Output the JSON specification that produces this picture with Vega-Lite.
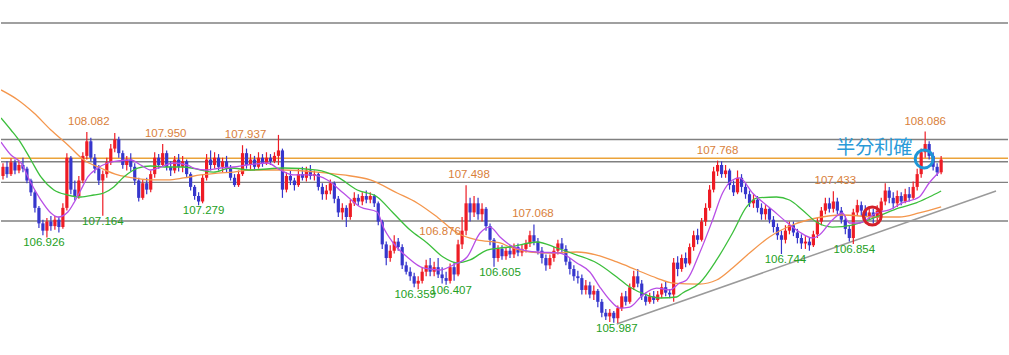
{
"$schema":"https://vega.github.io/schema/vega-lite/v6.json",
"width":1009,"height":355,"padding":0,
"autosize":{"type":"fit","contains":"padding"},
"background":"white",
"config":{"view":{"stroke":null},"axis":{"disable":true}},
"datasets":{
"candles":[
{"t":0,"o":107.60,"h":107.74,"l":107.56,"c":107.70},
{"t":1,"o":107.70,"h":107.76,"l":107.58,"c":107.62},
{"t":2,"o":107.62,"h":107.79,"l":107.60,"c":107.75},
{"t":3,"o":107.75,"h":107.78,"l":107.62,"c":107.66},
{"t":4,"o":107.66,"h":107.76,"l":107.63,"c":107.72},
{"t":5,"o":107.72,"h":107.80,"l":107.64,"c":107.68},
{"t":6,"o":107.68,"h":107.70,"l":107.52,"c":107.55},
{"t":7,"o":107.55,"h":107.57,"l":107.38,"c":107.42},
{"t":8,"o":107.42,"h":107.44,"l":107.20,"c":107.25},
{"t":9,"o":107.25,"h":107.27,"l":107.03,"c":107.08},
{"t":10,"o":107.08,"h":107.12,"l":106.95,"c":107.00},
{"t":11,"o":107.00,"h":107.14,"l":106.926,"c":107.10},
{"t":12,"o":107.10,"h":107.16,"l":107.00,"c":107.05},
{"t":13,"o":107.05,"h":107.16,"l":107.01,"c":107.12},
{"t":14,"o":107.12,"h":107.15,"l":106.98,"c":107.04},
{"t":15,"o":107.04,"h":107.30,"l":107.02,"c":107.25},
{"t":16,"o":107.25,"h":107.85,"l":107.22,"c":107.80},
{"t":17,"o":107.80,"h":107.82,"l":107.40,"c":107.45},
{"t":18,"o":107.45,"h":107.55,"l":107.33,"c":107.38},
{"t":19,"o":107.38,"h":107.60,"l":107.35,"c":107.55},
{"t":20,"o":107.55,"h":107.86,"l":107.52,"c":107.82},
{"t":21,"o":107.82,"h":108.082,"l":107.78,"c":107.98},
{"t":22,"o":107.98,"h":108.02,"l":107.76,"c":107.80},
{"t":23,"o":107.80,"h":107.84,"l":107.63,"c":107.68},
{"t":24,"o":107.68,"h":107.72,"l":107.50,"c":107.55},
{"t":25,"o":107.55,"h":107.66,"l":107.164,"c":107.62},
{"t":26,"o":107.62,"h":107.80,"l":107.58,"c":107.75},
{"t":27,"o":107.75,"h":107.95,"l":107.72,"c":107.90},
{"t":28,"o":107.90,"h":108.07,"l":107.86,"c":108.00},
{"t":29,"o":108.00,"h":108.03,"l":107.80,"c":107.85},
{"t":30,"o":107.85,"h":107.88,"l":107.68,"c":107.72},
{"t":31,"o":107.72,"h":107.82,"l":107.66,"c":107.78},
{"t":32,"o":107.78,"h":107.85,"l":107.65,"c":107.70},
{"t":33,"o":107.70,"h":107.74,"l":107.50,"c":107.55},
{"t":34,"o":107.55,"h":107.58,"l":107.32,"c":107.36},
{"t":35,"o":107.36,"h":107.56,"l":107.34,"c":107.52},
{"t":36,"o":107.52,"h":107.58,"l":107.40,"c":107.45},
{"t":37,"o":107.45,"h":107.66,"l":107.42,"c":107.62},
{"t":38,"o":107.62,"h":107.86,"l":107.58,"c":107.80},
{"t":39,"o":107.80,"h":107.84,"l":107.68,"c":107.72},
{"t":40,"o":107.72,"h":107.95,"l":107.70,"c":107.85},
{"t":41,"o":107.85,"h":107.88,"l":107.66,"c":107.70},
{"t":42,"o":107.70,"h":107.76,"l":107.60,"c":107.66},
{"t":43,"o":107.66,"h":107.82,"l":107.63,"c":107.78},
{"t":44,"o":107.78,"h":107.84,"l":107.65,"c":107.70},
{"t":45,"o":107.70,"h":107.82,"l":107.64,"c":107.76},
{"t":46,"o":107.76,"h":107.78,"l":107.58,"c":107.62},
{"t":47,"o":107.62,"h":107.64,"l":107.44,"c":107.48},
{"t":48,"o":107.48,"h":107.50,"l":107.34,"c":107.38},
{"t":49,"o":107.38,"h":107.42,"l":107.279,"c":107.32},
{"t":50,"o":107.32,"h":107.62,"l":107.30,"c":107.58},
{"t":51,"o":107.58,"h":107.84,"l":107.55,"c":107.78},
{"t":52,"o":107.78,"h":107.88,"l":107.66,"c":107.72},
{"t":53,"o":107.72,"h":107.86,"l":107.68,"c":107.80},
{"t":54,"o":107.80,"h":107.84,"l":107.66,"c":107.70},
{"t":55,"o":107.70,"h":107.80,"l":107.64,"c":107.76},
{"t":56,"o":107.76,"h":107.82,"l":107.64,"c":107.68},
{"t":57,"o":107.68,"h":107.72,"l":107.55,"c":107.58},
{"t":58,"o":107.58,"h":107.62,"l":107.48,"c":107.50},
{"t":59,"o":107.50,"h":107.66,"l":107.48,"c":107.62},
{"t":60,"o":107.62,"h":107.937,"l":107.60,"c":107.85},
{"t":61,"o":107.85,"h":107.90,"l":107.68,"c":107.72},
{"t":62,"o":107.72,"h":107.84,"l":107.66,"c":107.78},
{"t":63,"o":107.78,"h":107.82,"l":107.66,"c":107.70},
{"t":64,"o":107.70,"h":107.86,"l":107.68,"c":107.80},
{"t":65,"o":107.80,"h":107.84,"l":107.70,"c":107.74},
{"t":66,"o":107.74,"h":107.86,"l":107.72,"c":107.80},
{"t":67,"o":107.80,"h":107.84,"l":107.72,"c":107.76},
{"t":68,"o":107.76,"h":107.86,"l":107.74,"c":107.82},
{"t":69,"o":107.82,"h":108.05,"l":107.72,"c":107.88},
{"t":70,"o":107.88,"h":107.90,"l":107.36,"c":107.45},
{"t":71,"o":107.45,"h":107.64,"l":107.42,"c":107.60},
{"t":72,"o":107.60,"h":107.66,"l":107.50,"c":107.55},
{"t":73,"o":107.55,"h":107.58,"l":107.44,"c":107.50},
{"t":74,"o":107.50,"h":107.68,"l":107.48,"c":107.62},
{"t":75,"o":107.62,"h":107.70,"l":107.55,"c":107.58},
{"t":76,"o":107.58,"h":107.70,"l":107.54,"c":107.66},
{"t":77,"o":107.66,"h":107.72,"l":107.56,"c":107.60},
{"t":78,"o":107.60,"h":107.66,"l":107.55,"c":107.62},
{"t":79,"o":107.62,"h":107.64,"l":107.44,"c":107.48},
{"t":80,"o":107.48,"h":107.52,"l":107.34,"c":107.40},
{"t":81,"o":107.40,"h":107.50,"l":107.34,"c":107.44},
{"t":82,"o":107.44,"h":107.56,"l":107.40,"c":107.52},
{"t":83,"o":107.52,"h":107.54,"l":107.30,"c":107.35},
{"t":84,"o":107.35,"h":107.38,"l":107.15,"c":107.20},
{"t":85,"o":107.20,"h":107.30,"l":107.12,"c":107.25},
{"t":86,"o":107.25,"h":107.28,"l":107.04,"c":107.15},
{"t":87,"o":107.15,"h":107.34,"l":107.12,"c":107.30},
{"t":88,"o":107.30,"h":107.42,"l":107.27,"c":107.36},
{"t":89,"o":107.36,"h":107.40,"l":107.28,"c":107.32},
{"t":90,"o":107.32,"h":107.42,"l":107.28,"c":107.38},
{"t":91,"o":107.38,"h":107.44,"l":107.30,"c":107.34},
{"t":92,"o":107.34,"h":107.42,"l":107.30,"c":107.38},
{"t":93,"o":107.38,"h":107.40,"l":107.26,"c":107.30},
{"t":94,"o":107.30,"h":107.32,"l":107.06,"c":107.10},
{"t":95,"o":107.10,"h":107.12,"l":106.80,"c":106.85},
{"t":96,"o":106.85,"h":106.88,"l":106.62,"c":106.70},
{"t":97,"o":106.70,"h":106.84,"l":106.66,"c":106.78},
{"t":98,"o":106.78,"h":106.95,"l":106.75,"c":106.88},
{"t":99,"o":106.88,"h":106.92,"l":106.78,"c":106.82},
{"t":100,"o":106.82,"h":106.85,"l":106.58,"c":106.62},
{"t":101,"o":106.62,"h":106.66,"l":106.52,"c":106.55},
{"t":102,"o":106.55,"h":106.60,"l":106.45,"c":106.50},
{"t":103,"o":106.50,"h":106.54,"l":106.38,"c":106.42},
{"t":104,"o":106.42,"h":106.50,"l":106.359,"c":106.45},
{"t":105,"o":106.45,"h":106.60,"l":106.42,"c":106.55},
{"t":106,"o":106.55,"h":106.68,"l":106.50,"c":106.62},
{"t":107,"o":106.62,"h":106.70,"l":106.50,"c":106.55},
{"t":108,"o":106.55,"h":106.66,"l":106.50,"c":106.60},
{"t":109,"o":106.60,"h":106.70,"l":106.48,"c":106.52},
{"t":110,"o":106.52,"h":106.60,"l":106.42,"c":106.48},
{"t":111,"o":106.48,"h":106.55,"l":106.407,"c":106.45},
{"t":112,"o":106.45,"h":106.64,"l":106.42,"c":106.60},
{"t":113,"o":106.60,"h":106.66,"l":106.45,"c":106.52},
{"t":114,"o":106.52,"h":106.90,"l":106.50,"c":106.85},
{"t":115,"o":106.85,"h":107.15,"l":106.80,"c":107.00},
{"t":116,"o":107.00,"h":107.498,"l":106.95,"c":107.30},
{"t":117,"o":107.30,"h":107.36,"l":107.10,"c":107.20},
{"t":118,"o":107.20,"h":107.38,"l":107.15,"c":107.30},
{"t":119,"o":107.30,"h":107.36,"l":107.12,"c":107.18},
{"t":120,"o":107.18,"h":107.30,"l":107.10,"c":107.24},
{"t":121,"o":107.24,"h":107.26,"l":107.00,"c":107.05},
{"t":122,"o":107.05,"h":107.08,"l":106.84,"c":106.90},
{"t":123,"o":106.90,"h":106.92,"l":106.605,"c":106.70},
{"t":124,"o":106.70,"h":106.84,"l":106.66,"c":106.80},
{"t":125,"o":106.80,"h":106.84,"l":106.68,"c":106.72},
{"t":126,"o":106.72,"h":106.82,"l":106.68,"c":106.78},
{"t":127,"o":106.78,"h":106.84,"l":106.70,"c":106.74},
{"t":128,"o":106.74,"h":106.86,"l":106.70,"c":106.82},
{"t":129,"o":106.82,"h":106.86,"l":106.72,"c":106.76},
{"t":130,"o":106.76,"h":106.85,"l":106.72,"c":106.80},
{"t":131,"o":106.80,"h":106.90,"l":106.76,"c":106.86},
{"t":132,"o":106.86,"h":107.00,"l":106.82,"c":106.95},
{"t":133,"o":106.95,"h":107.068,"l":106.84,"c":106.88},
{"t":134,"o":106.88,"h":106.92,"l":106.74,"c":106.78},
{"t":135,"o":106.78,"h":106.82,"l":106.64,"c":106.70},
{"t":136,"o":106.70,"h":106.74,"l":106.56,"c":106.62},
{"t":137,"o":106.62,"h":106.74,"l":106.58,"c":106.70},
{"t":138,"o":106.70,"h":106.82,"l":106.66,"c":106.78},
{"t":139,"o":106.78,"h":106.90,"l":106.74,"c":106.86},
{"t":140,"o":106.86,"h":106.92,"l":106.76,"c":106.80},
{"t":141,"o":106.80,"h":106.84,"l":106.62,"c":106.66},
{"t":142,"o":106.66,"h":106.70,"l":106.52,"c":106.58},
{"t":143,"o":106.58,"h":106.62,"l":106.45,"c":106.50},
{"t":144,"o":106.50,"h":106.56,"l":106.42,"c":106.48},
{"t":145,"o":106.48,"h":106.52,"l":106.30,"c":106.35},
{"t":146,"o":106.35,"h":106.46,"l":106.30,"c":106.40},
{"t":147,"o":106.40,"h":106.44,"l":106.26,"c":106.30},
{"t":148,"o":106.30,"h":106.40,"l":106.24,"c":106.34},
{"t":149,"o":106.34,"h":106.36,"l":106.16,"c":106.22},
{"t":150,"o":106.22,"h":106.25,"l":106.05,"c":106.10},
{"t":151,"o":106.10,"h":106.14,"l":106.02,"c":106.06},
{"t":152,"o":106.06,"h":106.14,"l":106.00,"c":106.10},
{"t":153,"o":106.10,"h":106.12,"l":105.99,"c":106.04},
{"t":154,"o":106.04,"h":106.18,"l":105.987,"c":106.15},
{"t":155,"o":106.15,"h":106.32,"l":106.12,"c":106.28},
{"t":156,"o":106.28,"h":106.34,"l":106.18,"c":106.22},
{"t":157,"o":106.22,"h":106.42,"l":106.20,"c":106.38},
{"t":158,"o":106.38,"h":106.56,"l":106.35,"c":106.50},
{"t":159,"o":106.50,"h":106.58,"l":106.38,"c":106.42},
{"t":160,"o":106.42,"h":106.46,"l":106.24,"c":106.28},
{"t":161,"o":106.28,"h":106.32,"l":106.18,"c":106.22},
{"t":162,"o":106.22,"h":106.32,"l":106.20,"c":106.28},
{"t":163,"o":106.28,"h":106.34,"l":106.20,"c":106.24},
{"t":164,"o":106.24,"h":106.34,"l":106.22,"c":106.30},
{"t":165,"o":106.30,"h":106.42,"l":106.26,"c":106.38},
{"t":166,"o":106.38,"h":106.44,"l":106.28,"c":106.32},
{"t":167,"o":106.32,"h":106.36,"l":106.26,"c":106.30},
{"t":168,"o":106.30,"h":106.70,"l":106.22,"c":106.65},
{"t":169,"o":106.65,"h":106.72,"l":106.50,"c":106.58},
{"t":170,"o":106.58,"h":106.74,"l":106.55,"c":106.70},
{"t":171,"o":106.70,"h":106.76,"l":106.60,"c":106.64},
{"t":172,"o":106.64,"h":106.86,"l":106.62,"c":106.82},
{"t":173,"o":106.82,"h":107.00,"l":106.78,"c":106.95},
{"t":174,"o":106.95,"h":107.02,"l":106.85,"c":106.90},
{"t":175,"o":106.90,"h":107.14,"l":106.88,"c":107.10},
{"t":176,"o":107.10,"h":107.30,"l":107.05,"c":107.25},
{"t":177,"o":107.25,"h":107.50,"l":107.22,"c":107.45},
{"t":178,"o":107.45,"h":107.70,"l":107.42,"c":107.65},
{"t":179,"o":107.65,"h":107.768,"l":107.60,"c":107.72},
{"t":180,"o":107.72,"h":107.76,"l":107.58,"c":107.62},
{"t":181,"o":107.62,"h":107.72,"l":107.58,"c":107.66},
{"t":182,"o":107.66,"h":107.68,"l":107.45,"c":107.50},
{"t":183,"o":107.50,"h":107.55,"l":107.38,"c":107.42},
{"t":184,"o":107.42,"h":107.66,"l":107.40,"c":107.58},
{"t":185,"o":107.58,"h":107.62,"l":107.42,"c":107.48},
{"t":186,"o":107.48,"h":107.52,"l":107.35,"c":107.40},
{"t":187,"o":107.40,"h":107.44,"l":107.26,"c":107.30},
{"t":188,"o":107.30,"h":107.40,"l":107.25,"c":107.34},
{"t":189,"o":107.34,"h":107.38,"l":107.20,"c":107.25},
{"t":190,"o":107.25,"h":107.30,"l":107.12,"c":107.18},
{"t":191,"o":107.18,"h":107.28,"l":107.12,"c":107.24},
{"t":192,"o":107.24,"h":107.26,"l":107.08,"c":107.12},
{"t":193,"o":107.12,"h":107.16,"l":106.98,"c":107.04},
{"t":194,"o":107.04,"h":107.08,"l":106.90,"c":106.95},
{"t":195,"o":106.95,"h":107.00,"l":106.744,"c":106.90},
{"t":196,"o":106.90,"h":107.06,"l":106.86,"c":107.00},
{"t":197,"o":107.00,"h":107.10,"l":106.96,"c":107.06},
{"t":198,"o":107.06,"h":107.10,"l":106.94,"c":106.98},
{"t":199,"o":106.98,"h":107.02,"l":106.86,"c":106.92},
{"t":200,"o":106.92,"h":106.96,"l":106.80,"c":106.86},
{"t":201,"o":106.86,"h":106.94,"l":106.80,"c":106.88},
{"t":202,"o":106.88,"h":106.92,"l":106.78,"c":106.84},
{"t":203,"o":106.84,"h":107.00,"l":106.82,"c":106.96},
{"t":204,"o":106.96,"h":107.14,"l":106.92,"c":107.10},
{"t":205,"o":107.10,"h":107.26,"l":107.06,"c":107.22},
{"t":206,"o":107.22,"h":107.36,"l":107.18,"c":107.30},
{"t":207,"o":107.30,"h":107.36,"l":107.20,"c":107.24},
{"t":208,"o":107.24,"h":107.433,"l":107.20,"c":107.32},
{"t":209,"o":107.32,"h":107.36,"l":107.18,"c":107.22},
{"t":210,"o":107.22,"h":107.26,"l":107.08,"c":107.12},
{"t":211,"o":107.12,"h":107.16,"l":106.96,"c":107.02},
{"t":212,"o":107.02,"h":107.06,"l":106.88,"c":106.92},
{"t":213,"o":106.92,"h":107.24,"l":106.854,"c":107.20},
{"t":214,"o":107.20,"h":107.34,"l":107.16,"c":107.28},
{"t":215,"o":107.28,"h":107.32,"l":107.16,"c":107.22},
{"t":216,"o":107.22,"h":107.28,"l":107.10,"c":107.16},
{"t":217,"o":107.16,"h":107.26,"l":107.12,"c":107.20},
{"t":218,"o":107.20,"h":107.24,"l":107.08,"c":107.14},
{"t":219,"o":107.14,"h":107.28,"l":107.10,"c":107.22},
{"t":220,"o":107.22,"h":107.36,"l":107.18,"c":107.32},
{"t":221,"o":107.32,"h":107.52,"l":107.28,"c":107.44},
{"t":222,"o":107.44,"h":107.48,"l":107.30,"c":107.36},
{"t":223,"o":107.36,"h":107.42,"l":107.24,"c":107.30},
{"t":224,"o":107.30,"h":107.44,"l":107.26,"c":107.38},
{"t":225,"o":107.38,"h":107.42,"l":107.28,"c":107.32},
{"t":226,"o":107.32,"h":107.46,"l":107.30,"c":107.40},
{"t":227,"o":107.40,"h":107.48,"l":107.32,"c":107.36},
{"t":228,"o":107.36,"h":107.54,"l":107.34,"c":107.48},
{"t":229,"o":107.48,"h":107.68,"l":107.44,"c":107.62},
{"t":230,"o":107.62,"h":107.90,"l":107.58,"c":107.86},
{"t":231,"o":107.86,"h":108.086,"l":107.80,"c":107.95},
{"t":232,"o":107.95,"h":107.98,"l":107.78,"c":107.82},
{"t":233,"o":107.82,"h":107.86,"l":107.66,"c":107.70},
{"t":234,"o":107.70,"h":107.74,"l":107.60,"c":107.64},
{"t":235,"o":107.64,"h":107.82,"l":107.62,"c":107.78}
],
"ma":[
{"s":"short","t":-0.5,"v":107.972},{"s":"short","t":2,"v":107.830},{"s":"short","t":4.5,"v":107.742},{"s":"short","t":7,"v":107.523},{"s":"short","t":9.5,"v":107.336},{"s":"short","t":12,"v":107.194},{"s":"short","t":13.75,"v":107.150},{"s":"short","t":16.25,"v":107.205},{"s":"short","t":17.75,"v":107.304},{"s":"short","t":19.5,"v":107.446},{"s":"short","t":21.25,"v":107.589},{"s":"short","t":23.75,"v":107.687},{"s":"short","t":26.25,"v":107.742},{"s":"short","t":28.75,"v":107.764},{"s":"short","t":32,"v":107.775},{"s":"short","t":34.5,"v":107.720},{"s":"short","t":37,"v":107.665},{"s":"short","t":39.5,"v":107.698},{"s":"short","t":42.75,"v":107.742},{"s":"short","t":46.25,"v":107.720},{"s":"short","t":47.75,"v":107.687},{"s":"short","t":51.25,"v":107.665},{"s":"short","t":54.5,"v":107.687},{"s":"short","t":57.75,"v":107.698},{"s":"short","t":61.25,"v":107.720},{"s":"short","t":66.25,"v":107.742},{"s":"short","t":69.5,"v":107.665},{"s":"short","t":72.75,"v":107.611},{"s":"short","t":77,"v":107.611},{"s":"short","t":81.25,"v":107.556},{"s":"short","t":85.25,"v":107.413},{"s":"short","t":89.5,"v":107.260},{"s":"short","t":93.75,"v":107.205},{"s":"short","t":95.25,"v":107.040},{"s":"short","t":97.75,"v":106.865},{"s":"short","t":101.25,"v":106.711},{"s":"short","t":105.25,"v":106.591},{"s":"short","t":109.5,"v":106.569},{"s":"short","t":112.75,"v":106.624},{"s":"short","t":116.25,"v":106.711},{"s":"short","t":119.5,"v":106.975},{"s":"short","t":122,"v":107.040},{"s":"short","t":124.5,"v":106.931},{"s":"short","t":127,"v":106.843},{"s":"short","t":130.25,"v":106.788},{"s":"short","t":133.75,"v":106.766},{"s":"short","t":139.5,"v":106.755},{"s":"short","t":143.75,"v":106.646},{"s":"short","t":147,"v":106.547},{"s":"short","t":149.5,"v":106.382},{"s":"short","t":152,"v":106.240},{"s":"short","t":154.5,"v":106.152},{"s":"short","t":157,"v":106.163},{"s":"short","t":160.25,"v":106.295},{"s":"short","t":163.75,"v":106.371},{"s":"short","t":167,"v":106.350},{"s":"short","t":169.5,"v":106.426},{"s":"short","t":171.25,"v":106.459},{"s":"short","t":174.5,"v":106.755},{"s":"short","t":177.75,"v":107.117},{"s":"short","t":180.25,"v":107.413},{"s":"short","t":182.75,"v":107.556},{"s":"short","t":184.5,"v":107.578},{"s":"short","t":187.75,"v":107.413},{"s":"short","t":192.75,"v":107.227},{"s":"short","t":196.25,"v":107.095},{"s":"short","t":199.5,"v":106.986},{"s":"short","t":202.75,"v":106.920},{"s":"short","t":204.5,"v":106.953},{"s":"short","t":207.75,"v":107.117},{"s":"short","t":210.25,"v":107.194},{"s":"short","t":212,"v":107.084},{"s":"short","t":214.5,"v":107.084},{"s":"short","t":218.75,"v":107.194},{"s":"short","t":222,"v":107.227},{"s":"short","t":225.25,"v":107.304},{"s":"short","t":229.5,"v":107.369},{"s":"short","t":232,"v":107.523},{"s":"short","t":234.5,"v":107.643},
{"s":"mid","t":-0.5,"v":108.236},{"s":"mid","t":2,"v":108.104},{"s":"mid","t":4.5,"v":107.961},{"s":"mid","t":7,"v":107.775},{"s":"mid","t":9.5,"v":107.589},{"s":"mid","t":12.75,"v":107.446},{"s":"mid","t":16.25,"v":107.391},{"s":"mid","t":19.5,"v":107.369},{"s":"mid","t":22.75,"v":107.391},{"s":"mid","t":25.25,"v":107.413},{"s":"mid","t":27.75,"v":107.479},{"s":"mid","t":30.25,"v":107.589},{"s":"mid","t":33.75,"v":107.687},{"s":"mid","t":37,"v":107.709},{"s":"mid","t":41.25,"v":107.698},{"s":"mid","t":45.25,"v":107.698},{"s":"mid","t":49.5,"v":107.665},{"s":"mid","t":52.75,"v":107.643},{"s":"mid","t":57,"v":107.687},{"s":"mid","t":62,"v":107.665},{"s":"mid","t":70.25,"v":107.687},{"s":"mid","t":78.75,"v":107.665},{"s":"mid","t":83.75,"v":107.589},{"s":"mid","t":88.75,"v":107.446},{"s":"mid","t":93.75,"v":107.369},{"s":"mid","t":97.75,"v":107.194},{"s":"mid","t":102,"v":107.007},{"s":"mid","t":106.25,"v":106.865},{"s":"mid","t":110.25,"v":106.711},{"s":"mid","t":113.75,"v":106.646},{"s":"mid","t":117,"v":106.679},{"s":"mid","t":121.25,"v":106.788},{"s":"mid","t":124.5,"v":106.810},{"s":"mid","t":127,"v":106.821},{"s":"mid","t":133.75,"v":106.876},{"s":"mid","t":138.75,"v":106.810},{"s":"mid","t":143.75,"v":106.733},{"s":"mid","t":148.75,"v":106.646},{"s":"mid","t":153.75,"v":106.492},{"s":"mid","t":157,"v":106.382},{"s":"mid","t":161.25,"v":106.295},{"s":"mid","t":164.5,"v":106.262},{"s":"mid","t":168.75,"v":106.273},{"s":"mid","t":170.25,"v":106.317},{"s":"mid","t":174.5,"v":106.426},{"s":"mid","t":178.75,"v":106.679},{"s":"mid","t":182.75,"v":106.975},{"s":"mid","t":186.25,"v":107.260},{"s":"mid","t":188.75,"v":107.358},{"s":"mid","t":193.75,"v":107.369},{"s":"mid","t":197,"v":107.336},{"s":"mid","t":200.25,"v":107.227},{"s":"mid","t":203.75,"v":107.095},{"s":"mid","t":207.75,"v":107.040},{"s":"mid","t":212.75,"v":107.062},{"s":"mid","t":218.75,"v":107.150},{"s":"mid","t":224.5,"v":107.249},{"s":"mid","t":228.75,"v":107.304},{"s":"mid","t":232,"v":107.369},{"s":"mid","t":235,"v":107.435},
{"s":"long","t":-0.5,"v":108.543},{"s":"long","t":3.75,"v":108.433},{"s":"long","t":7.75,"v":108.290},{"s":"long","t":12,"v":108.104},{"s":"long","t":16.25,"v":107.940},{"s":"long","t":20.25,"v":107.775},{"s":"long","t":24.5,"v":107.687},{"s":"long","t":28.75,"v":107.611},{"s":"long","t":32.75,"v":107.578},{"s":"long","t":37,"v":107.556},{"s":"long","t":41.25,"v":107.556},{"s":"long","t":45.25,"v":107.578},{"s":"long","t":49.5,"v":107.611},{"s":"long","t":53.75,"v":107.632},{"s":"long","t":57.75,"v":107.643},{"s":"long","t":62,"v":107.665},{"s":"long","t":70.25,"v":107.665},{"s":"long","t":78.75,"v":107.643},{"s":"long","t":85.25,"v":107.611},{"s":"long","t":92,"v":107.556},{"s":"long","t":98.75,"v":107.413},{"s":"long","t":103.75,"v":107.304},{"s":"long","t":108.75,"v":107.150},{"s":"long","t":113.75,"v":106.975},{"s":"long","t":118.75,"v":106.898},{"s":"long","t":124.5,"v":106.865},{"s":"long","t":127,"v":106.821},{"s":"long","t":132,"v":106.766},{"s":"long","t":137,"v":106.755},{"s":"long","t":143.75,"v":106.766},{"s":"long","t":148.75,"v":106.733},{"s":"long","t":153.75,"v":106.657},{"s":"long","t":158.75,"v":106.569},{"s":"long","t":163.75,"v":106.481},{"s":"long","t":167.75,"v":106.426},{"s":"long","t":174.5,"v":106.415},{"s":"long","t":178.75,"v":106.459},{"s":"long","t":182.75,"v":106.591},{"s":"long","t":187,"v":106.755},{"s":"long","t":192,"v":106.931},{"s":"long","t":197.75,"v":107.062},{"s":"long","t":203.75,"v":107.139},{"s":"long","t":210.25,"v":107.172},{"s":"long","t":218.75,"v":107.150},{"s":"long","t":224.5,"v":107.150},{"s":"long","t":229.5,"v":107.194},{"s":"long","t":235,"v":107.260}
],
"hlines":[
{"p":109.277,"k":"gray"},{"p":108.0,"k":"gray"},{"p":107.794,"k":"orange"},{"p":107.756,"k":"gray"},{"p":107.53,"k":"gray"},{"p":107.106,"k":"gray"}
],
"trend":[{"t":153.75,"p":105.977},{"t":248.75,"p":107.435}],
"labels":[
{"t":21.5,"p":108.082,"text":"108.082","k":"hi"},
{"t":40.75,"p":107.95,"text":"107.950","k":"hi"},
{"t":60.75,"p":107.937,"text":"107.937","k":"hi"},
{"t":109.5,"p":106.876,"text":"106.876","k":"hi"},
{"t":116.75,"p":107.498,"text":"107.498","k":"hi"},
{"t":132.75,"p":107.068,"text":"107.068","k":"hi"},
{"t":179,"p":107.768,"text":"107.768","k":"hi"},
{"t":208.5,"p":107.433,"text":"107.433","k":"hi"},
{"t":231,"p":108.086,"text":"108.086","k":"hi"},
{"t":10.25,"p":106.926,"text":"106.926","k":"lo"},
{"t":25,"p":107.164,"text":"107.164","k":"lo"},
{"t":50.25,"p":107.279,"text":"107.279","k":"lo"},
{"t":103.25,"p":106.359,"text":"106.359","k":"lo"},
{"t":112.25,"p":106.407,"text":"106.407","k":"lo"},
{"t":124.5,"p":106.605,"text":"106.605","k":"lo"},
{"t":153.75,"p":105.987,"text":"105.987","k":"lo"},
{"t":196,"p":106.744,"text":"106.744","k":"lo"},
{"t":213.25,"p":106.854,"text":"106.854","k":"lo"}
],
"rings":[{"t":217.75,"p":107.161,"k":"red"},{"t":230.75,"p":107.786,"k":"blue"}],
"note":[{"t":218.25,"p":107.907,"text":"半分利確"}]
},
"layer":[
{"data":{"name":"hlines"},"mark":{"type":"rule","strokeWidth":1.4},
 "encoding":{"y":{"field":"p","type":"quantitative","scale":{"domain":[105.637,109.529],"nice":false,"zero":false},"axis":null},
 "color":{"field":"k","type":"nominal","scale":{"domain":["gray","orange"],"range":["#808080","#eba33a"]},"legend":null}}},
{"data":{"name":"trend"},"mark":{"type":"line","color":"#9a9a9a","strokeWidth":1.5,"clip":true},
 "encoding":{"x":{"field":"t","type":"quantitative","scale":{"domain":[-0.5,251.75],"nice":false,"zero":false},"axis":null},"y":{"field":"p","type":"quantitative"}}},
{"data":{"name":"candles"},"mark":{"type":"rule","strokeWidth":1.2},
 "encoding":{"x":{"field":"t","type":"quantitative"},"y":{"field":"l","type":"quantitative"},"y2":{"field":"h"},
 "color":{"condition":{"test":"datum.c >= datum.o","value":"#ee1c25"},"value":"#3636cc"}}},
{"data":{"name":"candles"},"mark":{"type":"rule","strokeWidth":3.2},
 "encoding":{"x":{"field":"t","type":"quantitative"},"y":{"field":"o","type":"quantitative"},"y2":{"field":"c"},
 "color":{"condition":{"test":"datum.c >= datum.o","value":"#ee1c25"},"value":"#3636cc"}}},
{"data":{"name":"ma"},"transform":[{"filter":"datum.s == 'long'"}],"mark":{"type":"line","color":"#f4964c","strokeWidth":1.3,"interpolate":"monotone","clip":true},
 "encoding":{"x":{"field":"t","type":"quantitative"},"y":{"field":"v","type":"quantitative"}}},
{"data":{"name":"ma"},"transform":[{"filter":"datum.s == 'mid'"}],"mark":{"type":"line","color":"#3cbf3c","strokeWidth":1.3,"interpolate":"monotone","clip":true},
 "encoding":{"x":{"field":"t","type":"quantitative"},"y":{"field":"v","type":"quantitative"}}},
{"data":{"name":"ma"},"transform":[{"filter":"datum.s == 'short'"}],"mark":{"type":"line","color":"#b84fe6","strokeWidth":1.3,"interpolate":"monotone","clip":true},
 "encoding":{"x":{"field":"t","type":"quantitative"},"y":{"field":"v","type":"quantitative"}}},
{"data":{"name":"labels"},"transform":[{"filter":"datum.k == 'hi'"}],"mark":{"type":"text","dy":-10,"baseline":"middle","align":"center","font":"Liberation Sans","fontSize":11.5,"color":"#d9803a"},
 "encoding":{"x":{"field":"t","type":"quantitative"},"y":{"field":"p","type":"quantitative"},"text":{"field":"text"}}},
{"data":{"name":"labels"},"transform":[{"filter":"datum.k == 'lo'"}],"mark":{"type":"text","dy":6,"baseline":"middle","align":"center","font":"Liberation Sans","fontSize":11.5,"color":"#24a024"},
 "encoding":{"x":{"field":"t","type":"quantitative"},"y":{"field":"p","type":"quantitative"},"text":{"field":"text"}}},
{"data":{"name":"rings"},"mark":{"type":"point","shape":"circle","filled":false,"strokeWidth":3,"size":320,"opacity":1},
 "encoding":{"x":{"field":"t","type":"quantitative"},"y":{"field":"p","type":"quantitative"},
 "color":{"field":"k","type":"nominal","scale":{"domain":["red","blue"],"range":["#d4202a","#1e96d6"]},"legend":null}}},
{"data":{"name":"note"},"mark":{"type":"text","align":"center","baseline":"middle","font":"Noto Sans CJK JP","fontSize":19,"color":"#2a9ad8"},
 "encoding":{"x":{"field":"t","type":"quantitative"},"y":{"field":"p","type":"quantitative"},"text":{"field":"text"}}}
],
"resolve":{"scale":{"color":"independent"}}
}
